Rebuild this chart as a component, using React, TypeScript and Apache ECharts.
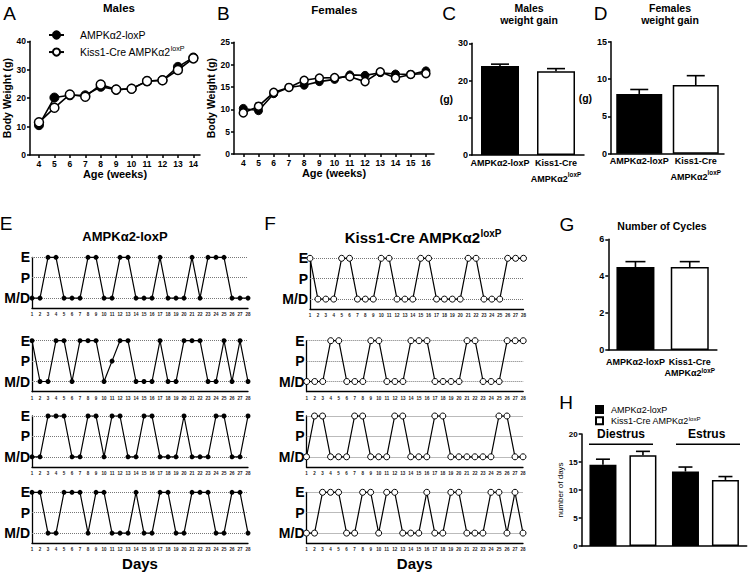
import React, { useEffect, useRef } from 'react';
import * as echarts from 'echarts';

const FONT = '"Liberation Sans", Arial, Helvetica, sans-serif';

// ---------- data ----------
const groups = ['AMPKα2-loxP', 'Kiss1-Cre AMPKα2loxP'];

const weeksMales = [4, 5, 6, 7, 8, 9, 10, 11, 12, 13, 14];
const malesLox = [10.5, 20.2, 21.0, 21.0, 24.0, 23.0, 23.3, 26.0, 26.3, 31.0, 34.3];
const malesKiss = [11.5, 16.6, 21.3, 20.5, 24.8, 23.0, 23.3, 26.0, 26.3, 29.9, 34.0];

const weeksFemales = [4, 5, 6, 7, 8, 9, 10, 11, 12, 13, 14, 15, 16];
const femalesLox = [10.2, 9.7, 13.5, 14.9, 15.4, 16.2, 16.7, 17.7, 17.6, 18.2, 17.9, 17.8, 18.6];
const femalesKiss = [9.2, 10.7, 13.8, 14.9, 16.5, 17.0, 17.1, 17.3, 16.2, 18.4, 17.0, 17.8, 18.0];

const maleGain = [23.9, 22.5];
const maleGainErr = [0.5, 0.7];
const femaleGain = [8.0, 9.2];
const femaleGainErr = [0.6, 1.25];

const cycleCount = [4.5, 4.5];
const cycleCountErr = [0.29, 0.29];

const phases = ['Diestrus', 'Estrus'];
const phaseDaysLox = [14.5, 13.3];
const phaseDaysLoxErr = [1.0, 0.8];
const phaseDaysKiss = [16.2, 11.8];
const phaseDaysKissErr = [0.7, 0.6];

const stages = ['M/D', 'P', 'E'];
const days = [1, 2, 3, 4, 5, 6, 7, 8, 9, 10, 11, 12, 13, 14, 15, 16, 17, 18, 19, 20, 21, 22, 23, 24, 25, 26, 27, 28];

const cyclesLoxRow1 = [0, 0, 2, 2, 0, 0, 0, 2, 2, 0, 0, 2, 2, 0, 0, 0, 2, 0, 0, 0, 2, 0, 2, 2, 2, 0, 0, 0];
const cyclesLoxRow2 = [2, 0, 0, 2, 2, 0, 2, 2, 2, 0, 1, 2, 2, 0, 0, 0, 2, 0, 0, 2, 2, 2, 0, 0, 2, 0, 2, 0];
const cyclesLoxRow3 = [0, 0, 2, 2, 2, 0, 0, 2, 2, 0, 2, 2, 0, 0, 2, 2, 0, 0, 0, 2, 0, 0, 0, 2, 2, 0, 0, 2];
const cyclesLoxRow4 = [2, 2, 0, 0, 2, 2, 2, 0, 2, 2, 0, 0, 0, 2, 0, 0, 2, 2, 0, 0, 2, 2, 2, 0, 0, 2, 2, 0];

const cyclesKissRow1 = [2, 0, 0, 0, 2, 2, 0, 0, 0, 2, 2, 0, 0, 0, 2, 2, 0, 0, 0, 0, 2, 2, 0, 0, 0, 2, 2, 2];
const cyclesKissRow2 = [0, 0, 0, 2, 2, 0, 0, 0, 2, 2, 0, 0, 0, 2, 2, 2, 0, 0, 0, 0, 2, 2, 0, 0, 0, 2, 2, 2];
const cyclesKissRow3 = [0, 2, 2, 0, 0, 0, 2, 2, 0, 0, 0, 2, 2, 0, 0, 0, 2, 2, 0, 0, 0, 0, 0, 0, 2, 2, 0, 0];
const cyclesKissRow4 = [0, 0, 2, 2, 2, 0, 0, 2, 2, 0, 2, 2, 0, 0, 0, 2, 0, 0, 2, 2, 0, 0, 0, 2, 2, 0, 2, 0];

const cyclesLox = [cyclesLoxRow1, cyclesLoxRow2, cyclesLoxRow3, cyclesLoxRow4];
const cyclesKiss = [cyclesKissRow1, cyclesKissRow2, cyclesKissRow3, cyclesKissRow4];

// ---------- helpers ----------
const LINE = { color: '#000', width: 1.5 };
const bold = (fs: number) => ({ fontSize: fs, fontWeight: 'bold', color: '#000', fontFamily: FONT });

const catRich = (fs: number, lh: number) => ({
  a: { fontSize: fs, fontWeight: 'bold', fontFamily: FONT, color: '#000', lineHeight: lh },
  s: { fontSize: fs * 0.7, fontWeight: 'bold', fontFamily: FONT, color: '#000', verticalAlign: 'top', lineHeight: lh * 0.75 },
});
const catFormatter = (v: string) =>
  v === groups[0] ? '{a|AMPKα2-loxP}' : '{a|Kiss1-Cre}\n{a|AMPKα2}{s|loxP}';

function errSeries(idx: number, vals: number[], errs: number[], cap: number, offset = 0) {
  return {
    type: 'custom',
    xAxisIndex: idx,
    yAxisIndex: idx,
    z: 5,
    silent: true,
    data: vals.map((v, i) => [i, v, errs[i]]),
    encode: { x: 0, y: 1 },
    renderItem: (_p: any, api: any) => {
      const i = api.value(0);
      const v = api.value(1);
      const e = api.value(2);
      const p0 = api.coord([i, v]);
      const p1 = api.coord([i, v + e]);
      const x = p0[0] + offset;
      const h = cap / 2;
      return {
        type: 'group',
        children: [
          { type: 'line', shape: { x1: x, y1: p0[1], x2: x, y2: p1[1] }, style: { stroke: '#000', lineWidth: 1.6 } },
          { type: 'line', shape: { x1: x - h, y1: p1[1], x2: x + h, y2: p1[1] }, style: { stroke: '#000', lineWidth: 1.6 } },
        ],
      };
    },
  };
}

function buildOption() {
  const grid: any[] = [];
  const xAxis: any[] = [];
  const yAxis: any[] = [];
  const series: any[] = [];

  // ---- A: males body weight ----
  grid.push({ left: 30, top: 41.3, width: 170, height: 113.7 });
  xAxis.push({
    gridIndex: 0, type: 'value', min: 3.42, max: 14.43,
    axisLine: { onZero: false, lineStyle: LINE },
    axisTick: { show: true, customValues: weeksMales, length: 3, lineStyle: LINE },
    axisLabel: { ...bold(8.5), customValues: weeksMales, margin: 4 },
    splitLine: { show: false },
    name: 'Age (weeks)', nameLocation: 'middle', nameGap: 12, nameTextStyle: bold(11),
  });
  yAxis.push({
    gridIndex: 0, type: 'value', min: 0, max: 40, interval: 10,
    axisLine: { show: true, lineStyle: LINE },
    axisTick: { show: true, length: 3, lineStyle: LINE },
    axisLabel: { ...bold(8.5), margin: 4 },
    splitLine: { show: false },
    name: 'Body Weight (g)', nameLocation: 'middle', nameRotate: 90, nameGap: 17, nameTextStyle: bold(10.5),
  });
  series.push({
    type: 'line', name: groups[0], xAxisIndex: 0, yAxisIndex: 0,
    data: weeksMales.map((w, i) => [w, malesLox[i]]),
    symbol: 'circle', symbolSize: 9, lineStyle: { color: '#000', width: 1.6 },
    itemStyle: { color: '#000', borderColor: '#000', borderWidth: 1 },
  });
  series.push({
    type: 'line', name: groups[1], xAxisIndex: 0, yAxisIndex: 0,
    data: weeksMales.map((w, i) => [w, malesKiss[i]]),
    symbol: 'circle', symbolSize: 9, lineStyle: { color: '#000', width: 1.6 },
    itemStyle: { color: '#fff', borderColor: '#000', borderWidth: 1.5 },
  });

  // ---- B: females body weight ----
  grid.push({ left: 234, top: 42.3, width: 200, height: 111.7 });
  xAxis.push({
    gridIndex: 1, type: 'value', min: 3.39, max: 16.53,
    axisLine: { onZero: false, lineStyle: LINE },
    axisTick: { show: true, customValues: weeksFemales, length: 3, lineStyle: LINE },
    axisLabel: { ...bold(8.5), customValues: weeksFemales, margin: 4 },
    splitLine: { show: false },
    name: 'Age (weeks)', nameLocation: 'middle', nameGap: 12, nameTextStyle: bold(11),
  });
  yAxis.push({
    gridIndex: 1, type: 'value', min: 0, max: 25, interval: 5,
    axisLine: { show: true, lineStyle: LINE },
    axisTick: { show: true, length: 3, lineStyle: LINE },
    axisLabel: { ...bold(8.5), margin: 4 },
    splitLine: { show: false },
    name: 'Body Weight (g)', nameLocation: 'middle', nameRotate: 90, nameGap: 12, nameTextStyle: bold(10.5),
  });
  series.push({
    type: 'line', name: 'B-lox', xAxisIndex: 1, yAxisIndex: 1,
    data: weeksFemales.map((w, i) => [w, femalesLox[i]]),
    symbol: 'circle', symbolSize: 8, lineStyle: { color: '#000', width: 1.6 },
    itemStyle: { color: '#000', borderColor: '#000', borderWidth: 1 },
  });
  series.push({
    type: 'line', name: 'B-kiss', xAxisIndex: 1, yAxisIndex: 1,
    data: weeksFemales.map((w, i) => [w, femalesKiss[i]]),
    symbol: 'circle', symbolSize: 8, lineStyle: { color: '#000', width: 1.6 },
    itemStyle: { color: '#fff', borderColor: '#000', borderWidth: 1.5 },
  });

  // ---- C, D, G: two-group bar panels ----
  const barPanels = [
    { g: { left: 472, top: 43.3, width: 112, height: 111.7 }, max: 30, interval: 10, vals: maleGain, errs: maleGainErr, bw: 38, cap: 18, name: '(g)', nameGap: 4, lh: 16, margin: 0 },
    { g: { left: 611, top: 41.7, width: 113, height: 112 }, max: 15, interval: 5, vals: femaleGain, errs: femaleGainErr, bw: 46, cap: 18, name: '(g)', nameGap: 9, lh: 16, margin: -0.5 },
    { g: { left: 608.3, top: 239.3, width: 108.6, height: 110.7 }, max: 6, interval: 2, vals: cycleCount, errs: cycleCountErr, bw: 38, cap: 20, name: '', nameGap: 0, lh: 11, margin: 6.5 },
  ];
  barPanels.forEach((p) => {
    const idx = grid.length;
    grid.push(p.g);
    xAxis.push({
      gridIndex: idx, type: 'category', data: groups,
      axisLine: { lineStyle: LINE }, axisTick: { show: false },
      axisLabel: { interval: 0, margin: p.margin, formatter: catFormatter, rich: catRich(9, p.lh) },
    });
    yAxis.push({
      gridIndex: idx, type: 'value', min: 0, max: p.max, interval: p.interval,
      axisLine: { show: true, lineStyle: LINE },
      axisTick: { show: true, length: 3, lineStyle: LINE },
      axisLabel: { ...bold(9), margin: 4 },
      splitLine: { show: false },
      name: p.name, nameLocation: 'middle', nameRotate: 0, nameGap: p.nameGap, nameTextStyle: bold(10.5),
    });
    series.push({
      type: 'bar', xAxisIndex: idx, yAxisIndex: idx, barWidth: p.bw,
      data: p.vals.map((v, i) => ({ value: v, itemStyle: { color: i === 0 ? '#000' : '#fff' } })),
      itemStyle: { borderColor: '#000', borderWidth: 1.5 },
    });
    series.push(errSeries(idx, p.vals, p.errs, p.cap));
  });

  // ---- H: days in each phase ----
  const hIdx = grid.length;
  grid.push({ left: 581.7, top: 434, width: 165, height: 112 });
  xAxis.push({
    gridIndex: hIdx, type: 'category', data: phases,
    axisLine: { lineStyle: LINE }, axisTick: { show: false }, axisLabel: { show: false },
  });
  yAxis.push({
    gridIndex: hIdx, type: 'value', min: 0, max: 20, interval: 5,
    axisLine: { show: true, lineStyle: LINE },
    axisTick: { show: true, length: 3, lineStyle: LINE },
    axisLabel: { ...bold(8), margin: 4 },
    splitLine: { show: false },
    name: 'number of days', nameLocation: 'middle', nameRotate: 90, nameGap: 15,
    nameTextStyle: { fontSize: 8, color: '#000', fontFamily: FONT },
  });
  series.push({
    type: 'bar', name: 'H-lox', xAxisIndex: hIdx, yAxisIndex: hIdx, barWidth: 27, barGap: '48%',
    data: phaseDaysLox, itemStyle: { color: '#000', borderColor: '#000', borderWidth: 1.5 },
  });
  series.push({
    type: 'bar', name: 'H-kiss', xAxisIndex: hIdx, yAxisIndex: hIdx, barWidth: 27, barGap: '48%',
    data: phaseDaysKiss, itemStyle: { color: '#fff', borderColor: '#000', borderWidth: 1.5 },
  });
  series.push(errSeries(hIdx, phaseDaysLox, phaseDaysLoxErr, 14, -20));
  series.push(errSeries(hIdx, phaseDaysKiss, phaseDaysKissErr, 14, 20));

  // ---- E, F: estrous cycle rows ----
  const rowTops = [257.3, 340.7, 416, 492.3];
  const fLefts = [310, 306.7, 306.5, 306.5];
  const fWidths = [213.5, 216.5, 216.5, 216.5];
  const addRow = (row: number[], left: number, top: number, width: number, open: boolean, last: boolean) => {
    const idx = grid.length;
    grid.push({ left, top, width, height: 51 });
    xAxis.push({
      gridIndex: idx, type: 'value', min: 1, max: 28, interval: 1,
      axisLine: { onZero: false, lineStyle: { color: '#000', width: 1.3 } },
      axisTick: { show: false }, splitLine: { show: false },
      axisLabel: { ...bold(4.5), color: '#222', margin: 4 },
      name: last ? 'Days' : '', nameLocation: 'middle', nameGap: 13, nameTextStyle: bold(15),
    });
    yAxis.push({
      gridIndex: idx, type: 'value', min: -0.5, max: 2,
      axisLine: { show: true, lineStyle: { color: '#000', width: 1.3 } },
      axisTick: { show: false }, splitLine: { show: false },
      axisLabel: { ...bold(14), margin: 2, customValues: [0, 1, 2], formatter: (v: number) => stages[Math.round(v)] },
    });
    series.push({
      type: 'line', xAxisIndex: idx, yAxisIndex: idx, clip: false,
      data: days.map((d, j) => [d, row[j]]),
      symbol: 'circle', symbolSize: open ? 6 : 5,
      lineStyle: { color: '#000', width: 1.2 },
      itemStyle: open ? { color: '#fff', borderColor: '#000', borderWidth: 1 } : { color: '#000' },
      z: 3,
      markLine: {
        silent: true, symbol: 'none', label: { show: false }, z: 1,
        lineStyle: { type: 'dotted', color: '#777', width: 1 },
        data: [{ yAxis: 0 }, { yAxis: 1 }, { yAxis: 2 }],
      },
    });
  };
  cyclesLox.forEach((row, i) => addRow(row, 32, rowTops[i], 216, false, i === 3));
  cyclesKiss.forEach((row, i) => addRow(row, fLefts[i], i === 0 ? 258.3 : rowTops[i], fWidths[i], true, i === 3));

  // ---- legends ----
  const legendRich = (fs: number) => ({
    t: { fontSize: fs, fontFamily: FONT, color: '#000', lineHeight: fs * 1.25 },
    s: { fontSize: fs * 0.68, fontFamily: FONT, color: '#000', verticalAlign: 'top', lineHeight: fs * 0.95 },
  });
  const legendFmt = (name: string) =>
    name === groups[1] || name === 'H-kiss' ? '{t|Kiss1-Cre AMPKα2}{s|loxP}' : '{t|AMPKα2-loxP}';

  const legend = [
    {
      left: 43, top: 24.5, orient: 'vertical', itemWidth: 15, itemHeight: 9, itemGap: 5, selectedMode: false,
      data: [groups[0], groups[1]], formatter: legendFmt,
      textStyle: { fontSize: 10.5, fontFamily: FONT, color: '#000', padding: [0, 0, 0, 11], rich: legendRich(10.5) },
    },
    {
      left: 590, top: 400, orient: 'vertical', itemWidth: 7, itemHeight: 7, itemGap: 1, selectedMode: false,
      icon: 'rect', data: ['H-lox', 'H-kiss'], formatter: legendFmt,
      textStyle: { fontSize: 9, fontFamily: FONT, color: '#000', padding: [0, 0, 0, 3], rich: legendRich(9) },
    },
  ];

  // ---- texts: panel letters, titles, annotations ----
  const txt = (x: number, y: number, text: string, fs: number, weight = 'bold', extra: any = {}) => ({
    type: 'text', x, y, silent: true,
    style: { text, fontSize: fs, fontWeight: weight, fontFamily: FONT, fill: '#000', align: 'center', verticalAlign: 'middle', ...extra },
  });
  const letters: [string, number, number][] = [
    ['A', 9.7, 13.3], ['B', 223.3, 13.7], ['C', 449, 13], ['D', 600.5, 13],
    ['E', 6, 223], ['F', 270, 223], ['G', 567, 224], ['H', 566, 402],
  ];
  const graphic: any[] = letters.map(([t, x, y]) => txt(x, y, t, 19, 'normal'));
  graphic.push(txt(119, 8, 'Males', 11.5));
  graphic.push(txt(334.3, 9.5, 'Females', 11.5));
  graphic.push(txt(529, 13.75, 'Males\nweight gain', 10.5, 'bold', { lineHeight: 12.5 }));
  graphic.push(txt(670, 13.75, 'Females\nweight gain', 10.5, 'bold', { lineHeight: 12.5 }));
  graphic.push(txt(125, 236, 'AMPKα2-loxP', 13));
  graphic.push(txt(423, 237, '{a|Kiss1-Cre AMPKα2}{s|loxP}', 15, 'bold', {
    rich: {
      a: { fontSize: 15, fontWeight: 'bold', fontFamily: FONT, fill: '#000', lineHeight: 18 },
      s: { fontSize: 10, fontWeight: 'bold', fontFamily: FONT, fill: '#000', verticalAlign: 'top', lineHeight: 13 },
    },
  }));
  graphic.push(txt(662, 226, 'Number of Cycles', 10.5));
  graphic.push(txt(621, 434, 'Diestrus', 12));
  graphic.push(txt(706.7, 434, 'Estrus', 12));
  graphic.push({ type: 'line', silent: true, shape: { x1: 589, y1: 444.3, x2: 653, y2: 444.3 }, style: { stroke: '#000', lineWidth: 1.5 } });
  graphic.push({ type: 'line', silent: true, shape: { x1: 676, y1: 444.3, x2: 740, y2: 444.3 }, style: { stroke: '#000', lineWidth: 1.5 } });

  return {
    animation: false,
    backgroundColor: '#fff',
    textStyle: { fontFamily: FONT },
    grid, xAxis, yAxis, series, legend, graphic,
  };
}

export default function App() {
  const ref = useRef<HTMLDivElement>(null);
  useEffect(() => {
    document.body.style.margin = '0';
    const chart = echarts.init(ref.current!, undefined, { renderer: 'svg', width: 750, height: 574 });
    chart.setOption(buildOption() as any);
    return () => chart.dispose();
  }, []);
  return <div ref={ref} style={{ position: 'absolute', left: 0, top: 0, width: 750, height: 574, background: '#fff' }} />;
}
